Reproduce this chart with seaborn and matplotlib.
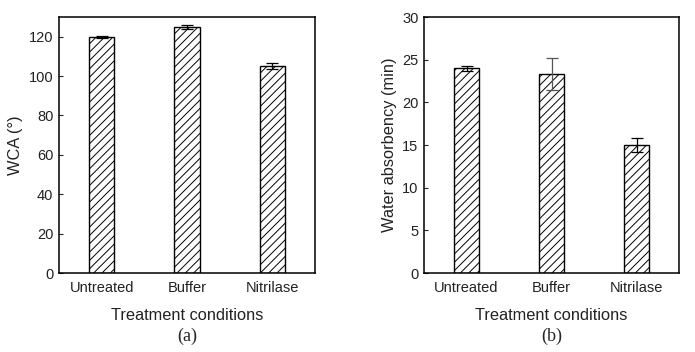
import matplotlib
matplotlib.use("Agg")
import matplotlib.pyplot as plt
import seaborn as sns
import numpy as np

categories = ["Untreated", "Buffer", "Nitrilase"]
wca_values = [120, 125, 105]
wca_err = [0.5, 1.0, 1.5]
wa_values = [24.0, 23.3, 15.0]
wa_err = [0.3, 1.9, 0.8]

sns.set_theme(style="ticks")
plt.rcParams['font.family'] = ['Liberation Sans', 'DejaVu Sans']
plt.rcParams['hatch.linewidth'] = 0.7

fig = plt.figure(figsize=(6.95, 3.52), dpi=100)
ax1 = fig.add_axes([0.0849, 0.2244, 0.3683, 0.7273])
ax2 = fig.add_axes([0.6101, 0.2244, 0.3669, 0.7273])

def draw(ax, vals, errs, ylim, yticks, ylabel, tag, ecolors):
    sns.barplot(x=categories, y=vals, ax=ax, color="white", edgecolor="black",
                linewidth=1.0, width=0.3, errorbar=None, saturation=1)
    for p in ax.patches:
        p.set_hatch("////")
        p.set_facecolor("white")
    for i, (v, e) in enumerate(zip(vals, errs)):
        ax.errorbar(i, v, yerr=e, fmt="none", ecolor=ecolors[i], elinewidth=0.9,
                    capsize=4, capthick=0.9)
    ax.set_xlim(-0.5, 2.5)
    ax.set_ylim(*ylim)
    ax.set_yticks(yticks)
    ax.tick_params(axis="y", direction="in", length=3, width=0.8, labelsize=10.5, pad=4,
                   labelcolor="#222222")
    ax.tick_params(axis="x", length=0, labelsize=10.5, pad=6, labelcolor="#222222")
    for s in ax.spines.values():
        s.set_visible(True)
        s.set_linewidth(1.1)
        s.set_color("black")
    ax.set_ylabel(ylabel, fontsize=11.8, labelpad=4, color="#222222")
    ax.set_xlabel("Treatment conditions", fontsize=11.8, labelpad=9, color="#222222")
    ax.text(0.5, -0.215, tag, transform=ax.transAxes, ha="center", va="top",
            fontsize=13, family=["Liberation Serif", "DejaVu Serif"])

draw(ax1, wca_values, wca_err, (0, 130), np.arange(0, 121, 20), "WCA (°)", "(a)",
     ["black", "black", "black"])
draw(ax2, wa_values, wa_err, (0, 30), np.arange(0, 31, 5), "Water absorbency (min)", "(b)",
     ["black", "#555555", "black"])

fig.savefig("out.png", dpi=100)
